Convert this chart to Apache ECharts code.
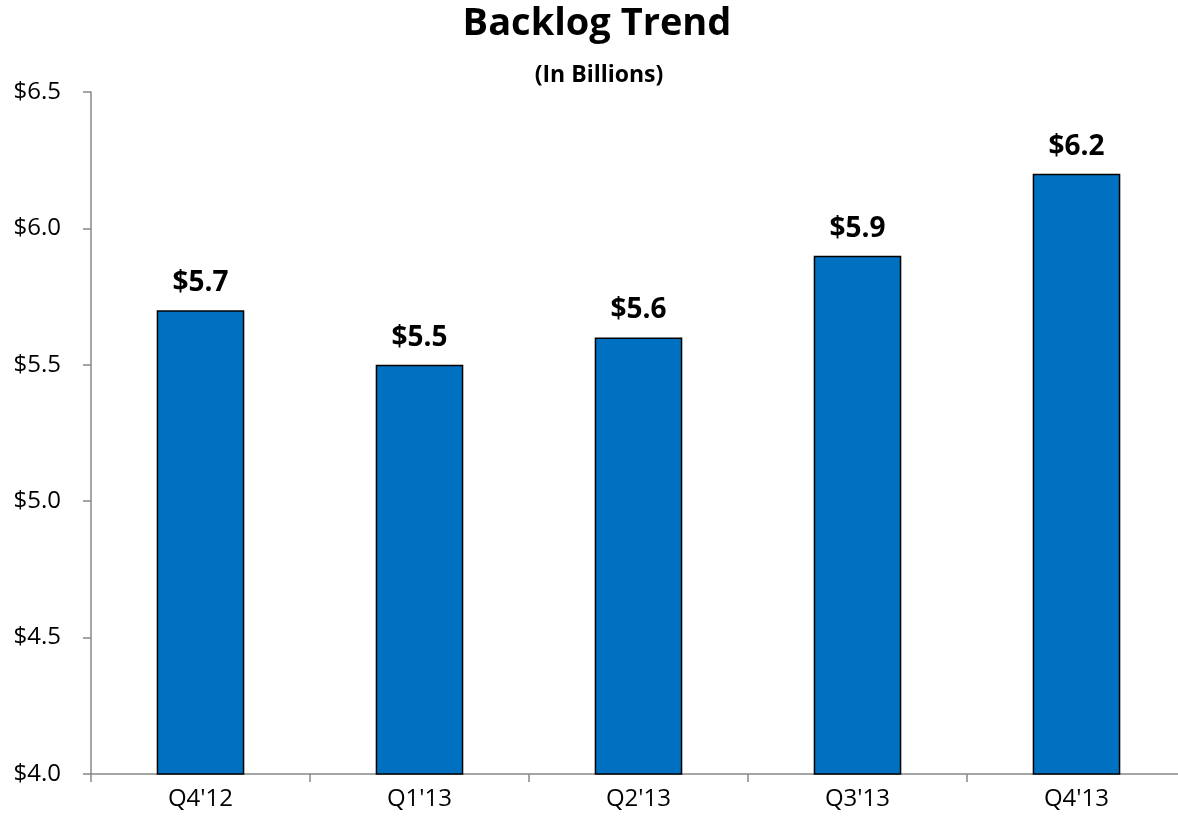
<!DOCTYPE html>
<html>
<head>
<meta charset="utf-8">
<script src="https://cdn.jsdelivr.net/npm/echarts@6/dist/echarts.min.js"></script>
<style>
  html, body { margin: 0; padding: 0; background: #fff; }
  #chart { width: 1178px; height: 819px; }
</style>
</head>
<body>
<div id="chart"></div>
<script>
// ----------------------
// DATA
// ----------------------
const quarters = ["Q4'12", "Q1'13", "Q2'13", "Q3'13", "Q4'13"];
const backlog = [5.7, 5.5, 5.6, 5.9, 6.2];

const font = "'Open Sans', sans-serif";

// ----------------------
// CHART
// ----------------------
const chart = echarts.init(document.getElementById("chart"));

chart.setOption({
  animation: false,
  title: [
    {
      text: "Backlog Trend",
      left: 597,
      top: 5,
      textAlign: "center",
      padding: 0,
      textStyle: { fontFamily: font, fontSize: 38, fontWeight: "bold", color: "#000" },
    },
    {
      text: "(In Billions)",
      left: 599,
      top: 64,
      textAlign: "center",
      padding: 0,
      textStyle: { fontFamily: font, fontSize: 23, fontWeight: "bold", color: "#000" },
    },
  ],
  grid: { left: 91, top: 92, width: 1095, height: 682, outerBoundsMode: "none" },
  xAxis: {
    type: "category",
    data: quarters,
    axisLine: { lineStyle: { color: "#888", width: 1.5 } },
    axisTick: { show: true, alignWithLabel: false, length: 8, lineStyle: { color: "#888", width: 1.5 } },
    axisLabel: { color: "#000", fontFamily: font, fontSize: 24, margin: 13 },
  },
  yAxis: {
    type: "value",
    min: 4.0,
    max: 6.5,
    interval: 0.5,
    splitLine: { show: false },
    axisLine: { show: true, lineStyle: { color: "#888", width: 1.5 } },
    axisTick: { show: true, length: 8, lineStyle: { color: "#888", width: 1.5 } },
    axisLabel: {
      color: "#000",
      fontFamily: font,
      fontSize: 24,
      margin: 30,
      formatter: (v) => "$" + v.toFixed(1),
    },
  },
  series: [
    {
      type: "bar",
      data: backlog,
      barWidth: "40%",
      itemStyle: { color: "#0070C0", borderColor: "#000", borderWidth: 1.5 },
      label: {
        show: true,
        position: "top",
        distance: 13,
        color: "#000",
        fontFamily: font,
        fontSize: 28,
        fontWeight: "bold",
        formatter: (p) => "$" + p.value.toFixed(1),
      },
    },
  ],
});
</script>
</body>
</html>
